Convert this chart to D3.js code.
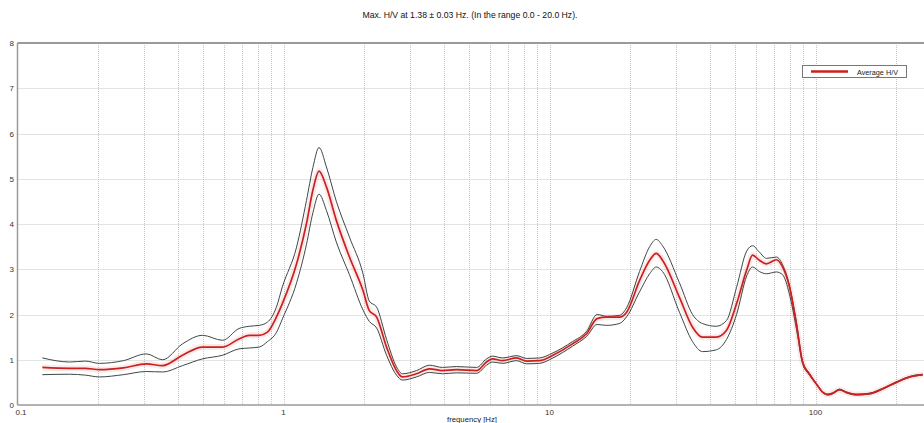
<!DOCTYPE html>
<html>
<head>
<meta charset="utf-8">
<script src="https://cdn.jsdelivr.net/npm/d3@7"></script>
<style>
  html, body { margin: 0; padding: 0; background: #fff; }
  svg { display: block; font-family: "Liberation Sans", Arial, sans-serif; }
</style>
</head>
<body>
<svg id="chart" width="924" height="423"></svg>
<script>
const titleText = "Max. H/V at 1.38 \u00B1 0.03 Hz. (In the range 0.0 - 20.0 Hz).";
const xLabel = "frequency [Hz]";
const legendLabel = "Average H/V";
const yTicks = [0, 1, 2, 3, 4, 5, 6, 7, 8];
const xTickLabels = [0.1, 1, 10, 100];

const freq = [0.124, 0.157, 0.18, 0.203, 0.25, 0.305, 0.351, 0.417, 0.496, 0.59, 0.68, 0.745, 0.81, 0.87, 0.94,
  0.99, 1.12, 1.22, 1.29, 1.36, 1.45, 1.58, 1.77, 1.99, 2.10, 2.24, 2.44, 2.66, 2.80, 3.16, 3.54,
  3.96, 4.47, 5.32, 5.80, 6.11, 6.66, 7.52, 8.20, 9.17, 10.3, 12.2, 13.8, 15.1, 16.4, 18.3, 19.5,
  21.8, 23.8, 25.2, 26.6, 30.8, 34.5, 37.6, 42.4, 46.3, 50.5, 55.1, 58.0, 61.5, 65.4, 71.3, 75.2,
  79.8, 84.9, 89.4, 94.9, 100.9, 106.6, 111.3, 116.2, 123.1, 130.4, 142.2, 159.5, 179.1, 201, 225.5, 253];

const avgHV = [0.83, 0.81, 0.81, 0.78, 0.82, 0.91, 0.87, 1.10, 1.28, 1.28, 1.46, 1.54, 1.54, 1.61, 1.94,
  2.24, 3.12, 4.01, 4.75, 5.17, 4.82, 4.08, 3.27, 2.53, 2.09, 1.94, 1.28, 0.76, 0.62, 0.69, 0.80,
  0.76, 0.78, 0.76, 0.95, 1.02, 0.98, 1.04, 0.97, 0.98, 1.10, 1.35, 1.58, 1.91, 1.94, 1.94, 2.05,
  2.75, 3.20, 3.35, 3.20, 2.38, 1.72, 1.50, 1.50, 1.65, 2.24, 2.98, 3.31, 3.20, 3.12, 3.21, 3.05,
  2.61, 1.75, 0.95, 0.68, 0.46, 0.28, 0.23, 0.26, 0.34, 0.28, 0.23, 0.25, 0.36, 0.50, 0.62, 0.67];

const upperHV = [1.04, 0.95, 0.97, 0.92, 0.98, 1.13, 1.00, 1.35, 1.54, 1.43, 1.69, 1.74, 1.76, 1.83, 2.16,
  2.61, 3.49, 4.52, 5.25, 5.69, 5.26, 4.50, 3.71, 2.90, 2.30, 2.16, 1.45, 0.84, 0.69, 0.76, 0.88,
  0.83, 0.85, 0.83, 1.02, 1.08, 1.04, 1.09, 1.03, 1.04, 1.15, 1.40, 1.63, 2.00, 1.96, 1.98, 2.15,
  2.95, 3.50, 3.66, 3.52, 2.70, 2.00, 1.80, 1.74, 1.87, 2.60, 3.40, 3.52, 3.38, 3.24, 3.27, 3.10,
  2.65, 1.82, 0.97, 0.70, 0.47, 0.29, 0.24, 0.27, 0.35, 0.29, 0.24, 0.26, 0.37, 0.51, 0.63, 0.68];

const lowerHV = [0.67, 0.68, 0.66, 0.62, 0.67, 0.74, 0.73, 0.87, 1.02, 1.10, 1.24, 1.26, 1.28, 1.40, 1.60,
  1.90, 2.70, 3.55, 4.25, 4.66, 4.30, 3.60, 2.88, 2.10, 1.85, 1.70, 1.10, 0.66, 0.55, 0.62, 0.72,
  0.69, 0.71, 0.70, 0.88, 0.95, 0.92, 0.98, 0.91, 0.92, 1.04, 1.30, 1.52, 1.78, 1.76, 1.80, 1.95,
  2.50, 2.90, 3.05, 2.95, 2.05, 1.40, 1.18, 1.22, 1.45, 2.00, 2.85, 3.05, 2.95, 2.90, 2.94, 2.88,
  2.45, 1.66, 0.92, 0.66, 0.45, 0.27, 0.22, 0.25, 0.33, 0.27, 0.22, 0.24, 0.35, 0.49, 0.61, 0.66];

const svg = d3.select("#chart");
const plotLeft = 17.5, plotTop = 43, plotBottom = 405, plotRight = 924;
const decade = 266;

const x = d3.scaleLog().domain([0.1, 1000]).range([plotLeft, plotLeft + 4 * decade]);
const y = d3.scaleLinear().domain([0, 8]).range([plotBottom, plotTop]);

// minor/major gridlines
const gridFreqs = [];
for (let e = -1; e <= 2; e++) {
  for (let m = 1; m <= 9; m++) {
    const f = m * Math.pow(10, e);
    if (f > 0.1 && x(f) <= plotRight) gridFreqs.push(f);
  }
}
const grid = svg.append("g");
grid.selectAll("line.v").data(gridFreqs).join("line")
  .attr("x1", d => Math.round(x(d)) + 0.5).attr("x2", d => Math.round(x(d)) + 0.5)
  .attr("y1", plotTop).attr("y2", plotBottom)
  .attr("stroke", "#c6c6c6").attr("stroke-width", 1).attr("stroke-dasharray", "1,1");
grid.selectAll("line.h").data(yTicks.filter(v => v > 0 && v < 8)).join("line")
  .attr("x1", plotLeft).attr("x2", plotRight)
  .attr("y1", d => Math.round(y(d)) + 0.5).attr("y2", d => Math.round(y(d)) + 0.5)
  .attr("stroke", "#c6c6c6").attr("stroke-width", 1).attr("stroke-dasharray", "1,1");

// frame
svg.append("line").attr("x1", plotLeft).attr("x2", plotRight).attr("y1", plotTop).attr("y2", plotTop)
  .attr("stroke", "#9a9a9a").attr("stroke-width", 1.8);
svg.append("line").attr("x1", plotLeft).attr("x2", plotLeft).attr("y1", plotTop).attr("y2", plotBottom)
  .attr("stroke", "#9a9a9a").attr("stroke-width", 1.5);
svg.append("line").attr("x1", plotLeft).attr("x2", plotRight).attr("y1", plotBottom).attr("y2", plotBottom)
  .attr("stroke", "#9a9a9a").attr("stroke-width", 1.5);

// y labels
svg.append("g").selectAll("text").data(yTicks).join("text")
  .attr("x", 14).attr("y", d => y(d) + 3)
  .attr("text-anchor", "end").attr("font-size", 8).attr("fill", "#333")
  .text(d => d);

// x labels
svg.append("g").selectAll("text").data(xTickLabels).join("text")
  .attr("x", d => x(d) + (d === 0.1 ? 3.5 : 0)).attr("y", 415)
  .attr("text-anchor", "middle").attr("font-size", 8).attr("fill", "#333")
  .text(d => d);

svg.append("text").attr("x", 472).attr("y", 422).attr("text-anchor", "middle")
  .attr("font-size", 8).attr("fill", "#222")
  .attr("textLength", 50).attr("lengthAdjust", "spacingAndGlyphs")
  .text(xLabel);

svg.append("text").attr("x", 470).attr("y", 18).attr("text-anchor", "middle")
  .attr("font-size", 8.5).attr("fill", "#111")
  .attr("textLength", 215).attr("lengthAdjust", "spacingAndGlyphs")
  .text(titleText);

// curves
const line = vals => d3.line()
  .x((d, i) => x(freq[i]))
  .y(d => y(d))
  .curve(d3.curveMonotoneX)(vals);

svg.append("path").attr("d", line(avgHV)).attr("fill", "none")
  .attr("stroke", "#e06060").attr("stroke-opacity", 0.13).attr("stroke-width", 6);
svg.append("path").attr("d", line(upperHV)).attr("fill", "none")
  .attr("stroke", "#3c4844").attr("stroke-width", 1);
svg.append("path").attr("d", line(lowerHV)).attr("fill", "none")
  .attr("stroke", "#3c4844").attr("stroke-width", 1);
svg.append("path").attr("d", line(avgHV)).attr("fill", "none")
  .attr("stroke", "#cc2020").attr("stroke-width", 1.7);

// legend
const lg = svg.append("g");
lg.append("rect").attr("x", 802.5).attr("y", 65.5).attr("width", 104).attr("height", 12)
  .attr("fill", "#fff").attr("stroke", "#777").attr("stroke-width", 1);
lg.append("line").attr("x1", 811).attr("x2", 848).attr("y1", 71.5).attr("y2", 71.5)
  .attr("stroke", "#cc2020").attr("stroke-width", 2.5);
lg.append("text").attr("x", 857).attr("y", 74.5).attr("font-size", 8).attr("fill", "#222")
  .attr("textLength", 41).attr("lengthAdjust", "spacingAndGlyphs")
  .text(legendLabel);
</script>
</body>
</html>
